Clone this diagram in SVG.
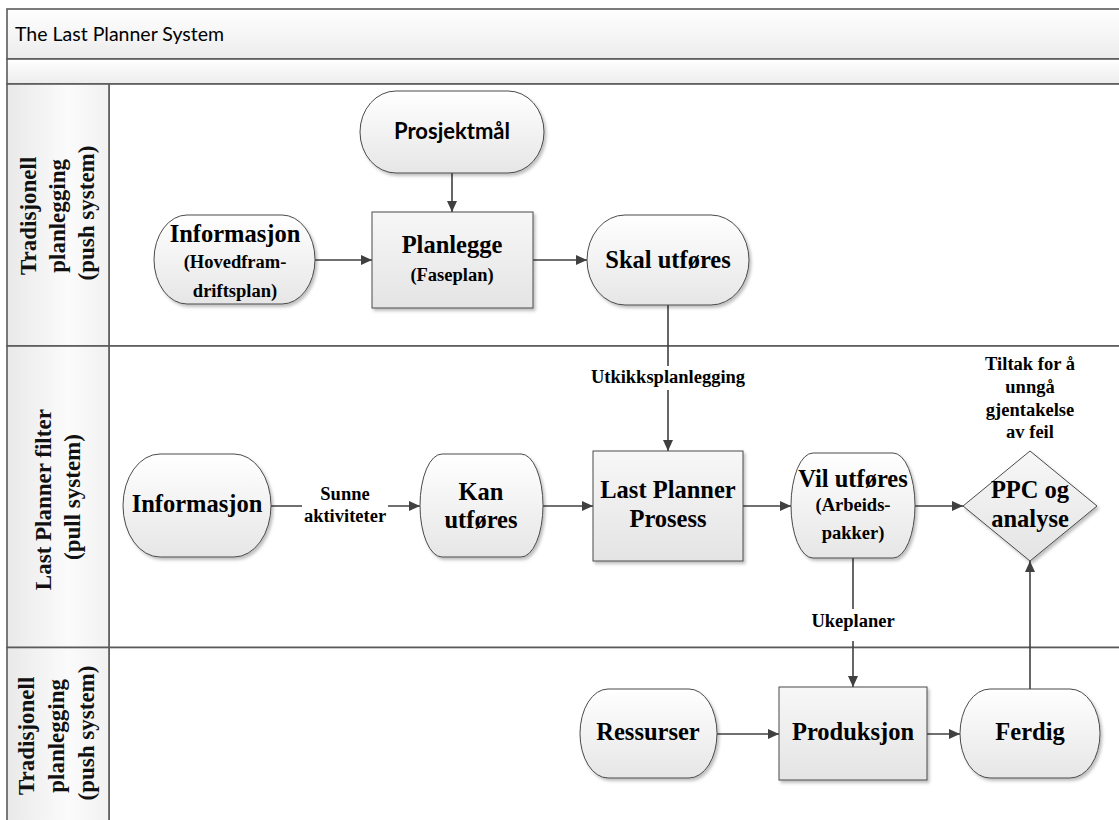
<svg xmlns="http://www.w3.org/2000/svg" width="1119" height="820" viewBox="0 0 1119 820">
  <style>
    .band { stroke: #5a5a5a; stroke-width: 1.6; }
    .lanebody { fill: #ffffff; stroke: #5a5a5a; stroke-width: 1.6; }
    .lanehead { fill: url(#headGrad); stroke: #5a5a5a; stroke-width: 1.6; }
    .lanetxt { font-family: "Liberation Serif", serif; font-weight: bold; font-size: 23px; fill: #111; text-anchor: middle; }
    .node { fill: url(#nodeGrad); stroke: #4a4a4a; stroke-width: 1; filter: url(#shadow); }
    .box { fill: url(#boxGrad); stroke: #4a4a4a; stroke-width: 1; filter: url(#shadow); }
    .t24 { font-family: "Liberation Serif", "Times New Roman", serif; font-weight: bold; font-size: 24.5px; fill: #000; text-anchor: middle; }
    .t18 { font-family: "Liberation Serif", "Times New Roman", serif; font-weight: bold; font-size: 18.5px; fill: #000; text-anchor: middle; }
    .sans { font-family: Lato, "Open Sans", "Liberation Sans", sans-serif; fill: #000; }
    .edge { fill: none; stroke: #404040; stroke-width: 1.6; }
    .lblbg { fill: #ffffff; }
  </style>
  <defs>
    <linearGradient id="bandGrad" x1="0" y1="0" x2="0" y2="1">
      <stop offset="0" stop-color="#ffffff"/>
      <stop offset="1" stop-color="#ececec"/>
    </linearGradient>
    <linearGradient id="headGrad" x1="0" y1="0" x2="1" y2="0">
      <stop offset="0" stop-color="#e9e9e9"/>
      <stop offset="0.6" stop-color="#fbfbfb"/>
      <stop offset="1" stop-color="#f1f1f1"/>
    </linearGradient>
    <linearGradient id="nodeGrad" x1="0" y1="0" x2="0" y2="1">
      <stop offset="0" stop-color="#ffffff"/>
      <stop offset="1" stop-color="#e6e6e6"/>
    </linearGradient>
    <linearGradient id="boxGrad" x1="0" y1="0" x2="0" y2="1">
      <stop offset="0" stop-color="#f7f7f7"/>
      <stop offset="1" stop-color="#e4e4e4"/>
    </linearGradient>
    <filter id="shadow" x="-10%" y="-10%" width="125%" height="130%">
      <feDropShadow dx="2" dy="2.5" stdDeviation="1.5" flood-color="#000" flood-opacity="0.25"/>
    </filter>
    <marker id="arrow" viewBox="0 0 11 10" refX="11" refY="5" markerUnits="userSpaceOnUse" markerWidth="11" markerHeight="10" orient="auto">
      <path d="M0,0 L11,5 L0,10 z" fill="#404040"/>
    </marker>
  </defs>

  <!-- pool header bands -->
  <g id="pool">
    <rect class="band" x="7" y="9" width="1125" height="50" fill="url(#bandGrad)"/>
    <text class="sans" x="15" y="41" font-size="19.5">The Last Planner System</text>
    <rect class="band" x="7" y="59" width="1125" height="25" fill="url(#bandGrad)"/>
  </g>

  <!-- swimlanes -->
  <g id="lane-push-top">
    <rect class="lanebody" x="109" y="84" width="1025" height="262"/>
    <rect class="lanehead" x="7" y="84" width="102" height="262"/>
    <text class="lanetxt" transform="translate(0,213) rotate(-90)">
      <tspan x="0" y="36">Tradisjonell</tspan>
      <tspan x="0" y="65">planlegging</tspan>
      <tspan x="0" y="94">(push system)</tspan>
    </text>
  </g>
  <g id="lane-pull">
    <rect class="lanebody" x="109" y="346" width="1025" height="301.5"/>
    <rect class="lanehead" x="7" y="346" width="102" height="301.5"/>
    <text class="lanetxt" transform="translate(0,497) rotate(-90)">
      <tspan x="0" y="51">Last Planner filter</tspan>
      <tspan x="0" y="80">(pull system)</tspan>
    </text>
  </g>
  <g id="lane-push-bottom">
    <rect class="lanebody" x="109" y="647.5" width="1025" height="185"/>
    <rect class="lanehead" x="7" y="647.5" width="102" height="185"/>
    <text class="lanetxt" transform="translate(0,733) rotate(-90)">
      <tspan x="0" y="34">Tradisjonell</tspan>
      <tspan x="0" y="64">planlegging</tspan>
      <tspan x="0" y="94">(push system)</tspan>
    </text>
  </g>

  <!-- connectors -->
  <g id="connectors">
    <path class="edge" d="M452,173 L452,212" marker-end="url(#arrow)"/>
    <path class="edge" d="M315,260 L372,260" marker-end="url(#arrow)"/>
    <path class="edge" d="M533,260 L587,260" marker-end="url(#arrow)"/>
    <path class="edge" d="M668,305 L668,451" marker-end="url(#arrow)"/>
    <rect class="lblbg" x="590" y="366" width="156" height="24"/>
    <text class="t18" x="668" y="383">Utkikksplanlegging</text>
    <path class="edge" d="M271,506 L420,506" marker-end="url(#arrow)"/>
    <rect class="lblbg" x="302" y="482" width="86" height="46"/>
    <text class="t18" x="345" y="500">Sunne</text>
    <text class="t18" x="345" y="522">aktiviteter</text>
    <path class="edge" d="M543,506 L593,506" marker-end="url(#arrow)"/>
    <path class="edge" d="M743,506 L791,506" marker-end="url(#arrow)"/>
    <path class="edge" d="M915,506 L963,506" marker-end="url(#arrow)"/>
    <path class="edge" d="M853,558 L853,687" marker-end="url(#arrow)"/>
    <rect class="lblbg" x="808" y="609" width="90" height="32"/>
    <text class="t18" x="853" y="627">Ukeplaner</text>
    <path class="edge" d="M717,734 L779,734" marker-end="url(#arrow)"/>
    <path class="edge" d="M927,734 L960,734" marker-end="url(#arrow)"/>
    <path class="edge" d="M1030,689 L1030,561" marker-end="url(#arrow)"/>
  </g>

  <!-- nodes: top lane -->
  <g id="prosjektmal">
    <rect class="node" x="360" y="91" width="184" height="82" rx="36" ry="41"/>
    <text class="sans" x="452" y="139" font-size="22" font-weight="bold" text-anchor="middle">Prosjektmål</text>
  </g>
  <g id="informasjon-plan">
    <rect class="node" x="154" y="215" width="161" height="89" rx="33" ry="44.5"/>
    <text class="t24" x="235" y="242">Informasjon</text>
    <text class="t18" x="235" y="268">(Hovedfram-</text>
    <text class="t18" x="235" y="297">driftsplan)</text>
  </g>
  <g id="planlegge">
    <rect class="box" x="372" y="212" width="161" height="96"/>
    <text class="t24" x="452" y="253">Planlegge</text>
    <text class="t18" x="452" y="281">(Faseplan)</text>
  </g>
  <g id="skal-utfores">
    <rect class="node" x="587" y="215" width="162" height="90" rx="38" ry="45"/>
    <text class="t24" x="668" y="268">Skal utføres</text>
  </g>

  <!-- nodes: middle lane -->
  <g id="informasjon">
    <rect class="node" x="123" y="454" width="148" height="103" rx="37" ry="51.5"/>
    <text class="t24" x="197" y="512">Informasjon</text>
  </g>
  <g id="kan-utfores">
    <rect class="node" x="420" y="454" width="123" height="103" rx="22" ry="51.5"/>
    <text class="t24" x="481" y="500">Kan</text>
    <text class="t24" x="481" y="528">utføres</text>
  </g>
  <g id="last-planner-prosess">
    <rect class="box" x="593" y="451" width="150" height="110"/>
    <text class="t24" x="668" y="498">Last Planner</text>
    <text class="t24" x="668" y="527">Prosess</text>
  </g>
  <g id="vil-utfores">
    <rect class="node" x="791" y="453" width="124" height="105" rx="22" ry="52.5"/>
    <text class="t24" x="853" y="487">Vil utføres</text>
    <text class="t18" x="853" y="511">(Arbeids-</text>
    <text class="t18" x="853" y="539">pakker)</text>
  </g>
  <g id="ppc-analyse">
    <text class="t18" x="1030" y="370">Tiltak for å</text>
    <text class="t18" x="1030" y="393">unngå</text>
    <text class="t18" x="1030" y="416">gjentakelse</text>
    <text class="t18" x="1030" y="438">av feil</text>
    <path class="box" d="M1030,451 L1097,506 L1030,561 L963,506 z"/>
    <text class="t24" x="1030" y="498">PPC og</text>
    <text class="t24" x="1030" y="527">analyse</text>
  </g>

  <!-- nodes: bottom lane -->
  <g id="ressurser">
    <rect class="node" x="580" y="689" width="137" height="89" rx="28" ry="44.5"/>
    <text class="t24" x="648" y="740">Ressurser</text>
  </g>
  <g id="produksjon">
    <rect class="box" x="779" y="687" width="148" height="93"/>
    <text class="t24" x="853" y="740">Produksjon</text>
  </g>
  <g id="ferdig">
    <rect class="node" x="960" y="689" width="140" height="89" rx="30" ry="44.5"/>
    <text class="t24" x="1030" y="740">Ferdig</text>
  </g>
</svg>
